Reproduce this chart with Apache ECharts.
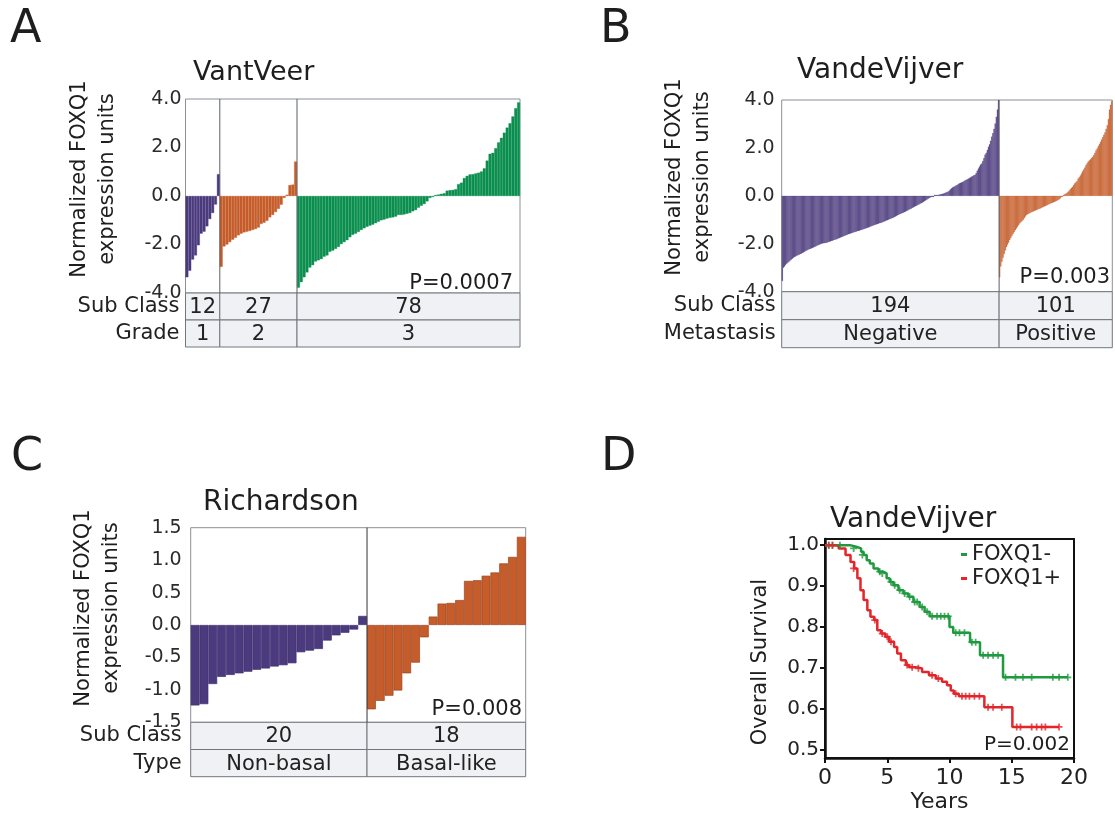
<!DOCTYPE html>
<html><head><meta charset="utf-8">
<script src="https://cdn.jsdelivr.net/npm/echarts@6/dist/echarts.min.js"></script>
<style>html,body{margin:0;padding:0;background:#fff}#c{width:1115px;height:816px}</style>
</head><body><div id="c"></div>
<script>
// ===== Panel A: VantVeer (sorted FOXQ1 per grade) =====
const vvGrade1 = [-3.35,-3.08,-2.62,-2.45,-2.03,-1.55,-1.47,-1.25,-0.95,-0.70,-0.35,0.90];
const vvGrade2 = [-2.92,-2.08,-2.00,-1.90,-1.80,-1.72,-1.62,-1.55,-1.50,-1.47,-1.44,-1.40,-1.36,-1.30,-1.15,-1.10,-1.02,-0.88,-0.78,-0.66,-0.53,-0.36,-0.08,0.05,0.45,0.47,1.42];
const vvGrade3 = [-3.78,-3.55,-3.35,-3.15,-2.95,-2.85,-2.70,-2.65,-2.60,-2.50,
  -2.45,-2.30,-2.25,-2.18,-2.10,-1.98,-1.90,-1.82,-1.70,-1.60,
  -1.55,-1.48,-1.40,-1.33,-1.27,-1.22,-1.18,-1.12,-1.06,-1.00,
  -0.97,-0.93,-0.90,-0.88,-0.85,-0.78,-0.78,-0.76,-0.73,-0.70,
  -0.63,-0.58,-0.48,-0.40,-0.33,-0.22,-0.08,-0.02,0.04,0.06,
  0.09,0.11,0.22,0.24,0.25,0.28,0.49,0.55,0.74,0.83,
  0.89,0.90,0.93,0.96,1.01,1.14,1.46,1.74,1.78,1.97,
  2.21,2.40,2.61,2.82,3.00,3.28,3.62,3.86];
const vvSubClass = ['12','27','78'];
const vvGradeLabels = ['1','2','3'];

// ===== Panel B: VandeVijver (metastasis) =====
const vdvNegative = [-3.55,-3.00,-2.95,-2.88,-2.83,-2.79,-2.75,-2.70,-2.66,-2.62,-2.58,
  -2.55,-2.53,-2.50,-2.48,-2.46,-2.43,-2.41,-2.38,-2.36,-2.33,-2.30,-2.28,
  -2.25,-2.23,-2.21,-2.19,-2.17,-2.15,-2.13,-2.11,-2.08,-2.06,-2.04,-2.02,
  -2.00,-1.99,-1.98,-1.97,-1.96,-1.95,-1.93,-1.91,-1.90,-1.88,-1.87,-1.85,
  -1.83,-1.82,-1.80,-1.78,-1.76,-1.74,-1.72,-1.70,-1.68,-1.66,-1.64,-1.62,
  -1.60,-1.59,-1.57,-1.56,-1.54,-1.52,-1.51,-1.49,-1.47,-1.46,-1.45,-1.43,
  -1.42,-1.40,-1.38,-1.37,-1.35,-1.33,-1.32,-1.30,-1.28,-1.26,-1.24,-1.22,
  -1.20,-1.19,-1.17,-1.16,-1.14,-1.13,-1.11,-1.09,-1.07,-1.05,-1.03,-1.01,
  -0.99,-0.97,-0.95,-0.93,-0.91,-0.89,-0.86,-0.84,-0.81,-0.79,-0.76,-0.74,
  -0.72,-0.70,-0.68,-0.66,-0.63,-0.61,-0.58,-0.56,-0.53,-0.50,-0.48,-0.45,
  -0.43,-0.41,-0.38,-0.36,-0.33,-0.31,-0.28,-0.25,-0.22,-0.19,-0.16,-0.13,
  -0.10,-0.07,-0.05,-0.03,-0.01,0.01,
  0.02,0.03,0.04,0.05,0.06,0.07,0.08,0.10,0.12,0.14,0.16,0.18,
  0.22,0.27,0.31,0.35,0.38,0.40,0.43,0.46,0.49,0.52,0.54,0.56,
  0.58,0.61,0.64,0.67,0.69,0.72,0.74,0.77,0.80,0.83,0.86,0.88,
  0.95,1.05,1.14,1.22,1.30,1.35,1.45,1.58,1.72,
  1.80,1.92,2.05,2.15,2.30,2.47,2.62,2.80,3.02,3.30,3.60,4.00];
const vdvPositive = [-3.40,-2.95,-2.75,-2.58,-2.42,-2.28,-2.14,-2.04,-1.95,-1.85,
  -1.76,-1.66,-1.58,-1.51,-1.43,-1.36,-1.29,-1.22,-1.15,-1.10,
  -1.05,-1.00,-0.93,-0.86,-0.80,-0.77,-0.74,-0.72,-0.69,-0.67,
  -0.65,-0.63,-0.61,-0.59,-0.57,-0.55,-0.53,-0.51,-0.48,-0.46,
  -0.44,-0.42,-0.40,-0.38,-0.35,-0.33,-0.31,-0.29,-0.27,-0.25,
  -0.23,-0.21,-0.18,-0.15,-0.11,-0.05,-0.02,0.02,0.06,0.09,
  0.12,0.17,0.22,0.28,0.33,0.38,0.45,0.52,0.56,0.62,
  0.72,0.78,0.85,0.93,1.02,1.10,1.18,1.28,1.36,1.43,
  1.48,1.52,1.58,1.63,1.70,1.80,1.90,1.98,2.08,2.16,
  2.25,2.35,2.45,2.55,2.65,2.80,2.95,3.20,3.60,3.80,3.95];
const vdvSubClass = ['194','101'];
const vdvMetastasis = ['Negative','Positive'];

// ===== Panel C: Richardson =====
const rNonBasal = [-1.24,-1.22,-0.91,-0.80,-0.77,-0.745,-0.72,-0.69,-0.67,-0.64,-0.62,-0.59,-0.42,-0.395,-0.37,-0.24,-0.16,-0.12,-0.07,0.14];
const rBasal = [-1.30,-1.17,-1.09,-1.01,-0.745,-0.58,-0.19,0.13,0.33,0.34,0.385,0.68,0.69,0.76,0.81,0.95,1.05,1.36];
const rSubClass = ['20','18'];
const rType = ['Non-basal','Basal-like'];

// ===== Panel D: Kaplan-Meier (years, overall survival) =====
const kmNeg = [[0,1.0],[2.0,0.996],[2.5,0.992],[2.9,0.984],[3.1,0.976],[3.35,0.963],[3.6,0.955],[3.9,0.943],[4.3,0.935],[4.7,0.931],[4.95,0.919],[5.2,0.910],[5.5,0.902],[5.9,0.890],[6.3,0.882],[6.7,0.874],[7.1,0.861],[7.6,0.849],[8.0,0.837],[8.4,0.826],[10.0,0.800],[10.3,0.786],[11.65,0.763],[12.45,0.731],[14.3,0.677],[19.5,0.677]];
const kmPos = [[0,1.0],[0.86,0.998],[1.1,0.992],[1.65,0.976],[2.05,0.959],[2.35,0.943],[2.6,0.919],[2.85,0.890],[3.1,0.866],[3.4,0.841],[3.65,0.825],[3.95,0.817],[4.2,0.792],[4.5,0.784],[4.85,0.776],[5.15,0.764],[5.55,0.751],[5.8,0.735],[6.1,0.719],[6.5,0.707],[6.75,0.702],[7.3,0.699],[7.8,0.690],[8.35,0.682],[8.9,0.674],[9.4,0.666],[9.8,0.658],[10.1,0.645],[10.35,0.637],[10.75,0.631],[12.8,0.604],[15.05,0.556],[18.8,0.556]];
const kmNegCensor = [[0.3,1.0],[0.6,1.0],[1.2,1.0],[2.3,0.992],[3.0,0.976],[4.4,0.935],[4.6,0.931],[5.3,0.910],[5.6,0.902],[6.0,0.890],[6.4,0.882],[6.8,0.874],[7.2,0.861],[7.4,0.861],[7.8,0.849],[8.2,0.837],[8.6,0.826],[9.0,0.826],[9.3,0.826],[9.6,0.826],[9.9,0.826],[10.5,0.786],[10.8,0.786],[11.2,0.786],[11.8,0.763],[12.1,0.763],[12.7,0.731],[13.1,0.731],[13.5,0.731],[13.9,0.731],[14.5,0.677],[15.3,0.677],[15.9,0.677],[16.6,0.677],[18.3,0.677],[18.8,0.677],[19.5,0.677]];
const kmPosCensor = [[0.3,1.0],[0.6,1.0],[2.3,0.943],[4.0,0.817],[4.6,0.784],[5.0,0.776],[5.3,0.764],[6.6,0.707],[7.0,0.702],[7.5,0.699],[8.6,0.682],[9.1,0.674],[10.5,0.637],[11.0,0.631],[11.3,0.631],[11.6,0.631],[12.0,0.631],[12.4,0.631],[13.1,0.604],[13.5,0.604],[14.2,0.604],[15.4,0.556],[15.7,0.556],[16.6,0.556],[17.0,0.556],[17.4,0.556],[17.7,0.556],[18.8,0.556]];
const kmYTicks = [0.5,0.6,0.7,0.8,0.9,1.0];
const kmNames = ['FOXQ1-','FOXQ1+'];

// ===== Styling =====
const FONT = 'DejaVu Sans';
const PURPLE = '#4b3a7d', ORANGE = '#c65c2a', GREEN = '#0b8f4e';
const KM_GREEN = '#1f9a3e', KM_RED = '#e2262b';

const grids = [], xAxes = [], yAxes = [], series = [];

function addBarPanel(p) {
  const gi = grids.length;
  const values = [].concat(...p.groups);
  const cats = values.map((_, i) => String(i));
  const bounds = []; let acc = 0;
  p.groups.forEach(g => { acc += g.length; bounds.push(acc); });
  const inner = bounds.slice(0, -1);
  const data = [];
  p.groups.forEach((g, k) => g.forEach(v => data.push({ value: v,
    itemStyle: { color: p.colors[k], borderColor: p.edges ? p.edges[k] : p.colors[k], borderWidth: p.edges ? 0.7 : 0.35 } })));
  grids.push({ left: p.left, right: p.right, top: p.top, bottom: p.bottom, show: true, borderColor: '#8a9097', borderWidth: 1 });
  xAxes.push({ type: 'category', gridIndex: gi, data: cats, boundaryGap: true,
    axisLine: { show: false }, axisTick: { show: false }, axisLabel: { show: false }, splitLine: { show: false } });
  yAxes.push({ type: 'value', gridIndex: gi, min: p.min, max: p.max, interval: p.interval,
    axisLine: { show: false }, axisTick: { show: false }, splitLine: { show: false },
    axisLabel: { formatter: v => v.toFixed(1), fontFamily: FONT, fontSize: 19, color: '#2b2b2b', margin: p.labelMargin } });
  series.push({ type: 'bar', xAxisIndex: gi, yAxisIndex: gi, data, barCategoryGap: '0%', barGap: '0%', barMinHeight: 1, silent: true, z: 3 });
  // group dividers at category boundaries
  series.push({ type: 'custom', xAxisIndex: gi, yAxisIndex: gi, data: inner.map(b => [b, p.max, p.min]),
    encode: { x: 0, y: [1, 2] }, silent: true, z: 4,
    renderItem: (params, api) => {
      const bw = api.size([1, 0])[0];
      const t = api.coord([api.value(0), api.value(1)]);
      const b = api.coord([api.value(0), api.value(2)]);
      const x = t[0] - bw / 2;
      return { type: 'line', shape: { x1: x, y1: t[1], x2: x, y2: b[1] }, style: { stroke: p.divColor, lineWidth: 1 } };
    } });

  // table under the bars
  const ti = grids.length;
  grids.push({ left: p.left, right: p.right, top: p.tableTop, height: p.tableH });
  xAxes.push({ type: 'value', gridIndex: ti, min: 0, max: values.length, show: false });
  yAxes.push({ type: 'category', gridIndex: ti, data: p.rowNames, inverse: true,
    axisLine: { show: false }, axisTick: { show: false }, splitLine: { show: false },
    axisLabel: { interval: 0, hideOverlap: false, fontFamily: FONT, fontSize: 21, color: '#222', margin: p.rowMargin } });
  const cells = [], texts = []; let s = 0;
  p.groups.forEach((g, k) => {
    const e = s + g.length;
    p.rowLabels.forEach((row, r) => { cells.push([s, e, r]); texts.push(row[k]); });
    s = e;
  });
  series.push({ type: 'custom', xAxisIndex: ti, yAxisIndex: ti, data: cells, encode: { x: [0, 1], y: 2 }, silent: true,
    renderItem: (params, api) => {
      const a = api.coord([api.value(0), api.value(2)]);
      const b = api.coord([api.value(1), api.value(2)]);
      const h = api.size([0, 1])[1];
      return { type: 'group', children: [
        { type: 'rect', shape: { x: a[0], y: a[1] - h / 2, width: b[0] - a[0], height: h },
          style: { fill: '#eff1f4', stroke: '#72777d', lineWidth: 1 } },
        { type: 'text', x: (a[0] + b[0]) / 2, y: a[1] + 1,
          style: { text: texts[params.dataIndex], font: '21px "DejaVu Sans"', fill: '#222',
            align: 'center', verticalAlign: 'middle', textAlign: 'center', textVerticalAlign: 'middle' } }
      ] };
    } });
}

addBarPanel({ groups: [vvGrade1, vvGrade2, vvGrade3], colors: [PURPLE, ORANGE, GREEN],
  left: 185.5, right: 595, top: 99, bottom: 523, min: -4, max: 4, interval: 2, labelMargin: 4, divColor: '#5a5f66',
  tableTop: 293, tableH: 54, rowNames: ['Sub Class', 'Grade'], rowLabels: [vvSubClass, vvGradeLabels], rowMargin: 6 });
addBarPanel({ groups: [vdvNegative, vdvPositive], colors: [PURPLE, ORANGE],
  left: 781.7, right: 2.7, top: 100, bottom: 524.3, min: -4, max: 4, interval: 2, labelMargin: 7, divColor: '#5a5f66',
  tableTop: 291.7, tableH: 56, rowNames: ['Sub Class', 'Metastasis'], rowLabels: [vdvSubClass, vdvMetastasis], rowMargin: 6 });
addBarPanel({ groups: [rNonBasal, rBasal], colors: [PURPLE, ORANGE], edges: ['#3f3070', '#9a4520'],
  left: 190.7, right: 589.3, top: 527.7, bottom: 93.7, min: -1.5, max: 1.5, interval: 0.5, labelMargin: 9, divColor: '#333',
  tableTop: 722.3, tableH: 54.4, rowNames: ['Sub Class', 'Type'], rowLabels: [rSubClass, rType], rowMargin: 9 });

// Panel D
const di = grids.length;
grids.push({ left: 825, right: 41, top: 539, bottom: 58, show: true, borderColor: '#111', borderWidth: 2 });
xAxes.push({ type: 'value', gridIndex: di, min: 0, max: 20, interval: 5,
  axisLine: { show: true, onZero: false, lineStyle: { color: '#111', width: 2.5 } },
  axisTick: { show: true, length: 5, lineStyle: { color: '#111', width: 2 } },
  axisLabel: { fontFamily: FONT, fontSize: 22, color: '#222', margin: 9 },
  splitLine: { show: false },
  name: 'Years', nameLocation: 'middle', nameGap: 33,
  nameTextStyle: { fontFamily: FONT, fontSize: 22, color: '#222', padding: [0, 20, 0, 0] } });
yAxes.push({ type: 'value', gridIndex: di, min: 0.48, max: 1.015,
  axisLine: { show: true, onZero: false, lineStyle: { color: '#111', width: 2.5 } },
  axisTick: { show: true, length: 5, customValues: kmYTicks, lineStyle: { color: '#111', width: 2 } },
  axisLabel: { customValues: kmYTicks, formatter: v => v.toFixed(1), fontFamily: FONT, fontSize: 20, color: '#222', margin: 6 },
  splitLine: { show: false } });
const plus = 'path://M3,0L5,0L5,3L8,3L8,5L5,5L5,8L3,8L3,5L0,5L0,3L3,3Z';
series.push({ type: 'line', name: kmNames[0], xAxisIndex: di, yAxisIndex: di, data: kmNeg, step: 'end', symbol: 'none', lineStyle: { color: KM_GREEN, width: 2.5 }, itemStyle: { color: KM_GREEN }, z: 4 });
series.push({ type: 'line', name: kmNames[1], xAxisIndex: di, yAxisIndex: di, data: kmPos, step: 'end', symbol: 'none', lineStyle: { color: KM_RED, width: 2.5 }, itemStyle: { color: KM_RED }, z: 4 });
series.push({ type: 'scatter', xAxisIndex: di, yAxisIndex: di, data: kmNegCensor, symbol: plus, symbolSize: 7, itemStyle: { color: KM_GREEN }, z: 5, silent: true });
series.push({ type: 'scatter', xAxisIndex: di, yAxisIndex: di, data: kmPosCensor, symbol: plus, symbolSize: 7, itemStyle: { color: KM_RED }, z: 5, silent: true });

function txt(x, y, text, size, align, extra) {
  return Object.assign({ type: 'text', x, y, z: 10,
    style: { text, font: size + 'px "DejaVu Sans"', fill: '#1e1e1e', align: align, verticalAlign: 'middle',
      textAlign: align, textVerticalAlign: 'middle' } }, extra || {});
}
function vtxt(x, y, text, size) {
  const t = txt(x, y, text, size, 'center', { rotation: Math.PI / 2 });
  t.style.lineHeight = 28;
  return t;
}

const graphics = [
  txt(10, 30, 'A', 46, 'left'), txt(600, 30, 'B', 46, 'left'),
  txt(11, 458, 'C', 46, 'left'), txt(601, 458, 'D', 46, 'left'),
  txt(193, 73, 'VantVeer', 27, 'left'),
  txt(797, 71, 'VandeVijver', 28, 'left'),
  txt(203, 503, 'Richardson', 28, 'left'),
  txt(830, 520, 'VandeVijver', 28, 'left'),
  txt(513, 284, 'P=0.0007', 21, 'right'),
  txt(1110, 278, 'P=0.003', 21, 'right'),
  txt(522, 710, 'P=0.008', 21, 'right'),
  txt(1070, 745, 'P=0.002', 20, 'right'),
  vtxt(93.5, 179, 'Normalized FOXQ1\nexpression units', 21),
  vtxt(689, 177, 'Normalized FOXQ1\nexpression units', 21),
  vtxt(98, 608, 'Normalized FOXQ1\nexpression units', 21),
  vtxt(761, 662, 'Overall Survival', 21)
];

const chart = echarts.init(document.getElementById('c'), null, { renderer: 'canvas' });
chart.setOption({
  animation: false,
  backgroundColor: '#fff',
  textStyle: { fontFamily: FONT },
  grid: grids, xAxis: xAxes, yAxis: yAxes, series,
  legend: { data: kmNames, orient: 'vertical', left: 961, top: 544, icon: 'rect', itemWidth: 6, itemHeight: 3, itemGap: 3, padding: 0,
    selectedMode: false, textStyle: { fontFamily: FONT, fontSize: 21, color: '#222' } },
  graphic: graphics
});
</script></body></html>
